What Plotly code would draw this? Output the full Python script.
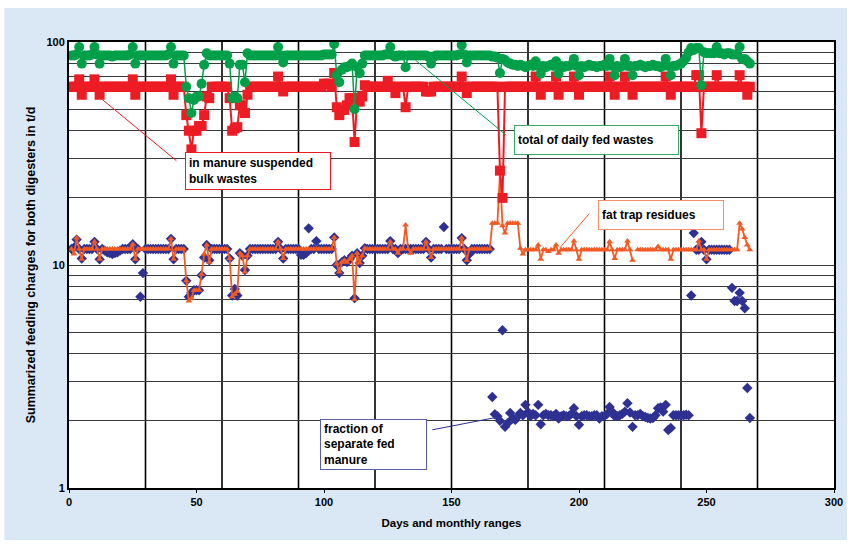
import plotly.graph_objects as go

days = list(range(1, 268))

# total of daily fed wastes (t/d)
total_fed = [
    87, 87, 88, 95, 80, 87, 87, 87, 88, 95,
    88, 80, 87, 87, 87, 87, 86, 87, 87, 87,
    87, 87, 87, 88, 95, 80, 87, 87, 87, 87,
    87, 87, 87, 87, 87, 87, 87, 87, 88, 95,
    80, 87, 87, 87, 87, 63, 56, 48, 55, 57,
    57, 65, 79, 89, 87, 87, 87, 87, 87, 87,
    87, 87, 80, 56, 57, 56, 79, 79, 66, 89,
    87, 87, 87, 87, 87, 87, 87, 87, 87, 87,
    87, 95, 87, 81, 87, 87, 87, 87, 87, 87,
    87, 87, 87, 87, 87, 87, 87, 87, 87, 88,
    88, 88, 88, 98, 71, 66, 75, 77, 77, 78,
    80, 50, 77, 72.5, 80, 87, 87, 87, 87, 87,
    87, 87, 87, 88, 88, 95, 87, 86, 87, 87,
    87, 77, 87, 87, 87, 87, 87, 87, 87, 87,
    86, 80, 86, 87, 87, 87, 87, 87, 87, 87,
    87, 87, 88, 97, 88, 81, 87, 87, 87, 87,
    87, 87, 87, 87, 87, 86, 86, 85, 72.6, 84,
    83, 81, 80, 79, 79, 78, 79, 78, 77, 78,
    79, 78, 82, 78, 72, 78, 77, 78, 79, 78,
    82, 72, 78, 77, 78, 78, 79, 84, 78, 71,
    78, 77, 78, 79, 78, 78, 77, 78, 78, 79,
    78, 84, 78, 71, 78, 77, 78, 84, 78, 78,
    71, 78, 78, 79, 78, 77, 78, 78, 79, 78,
    78, 77, 78, 84, 78, 71, 78, 78, 79, 80,
    82, 85, 90, 94, 92, 94, 94, 64, 90, 89,
    89, 89, 89, 95, 89, 89, 88, 89, 89, 88,
    88, 88, 95, 84, 84, 82, 80,
]

# in manure suspended bulk wastes (t/d)
bulk_wastes = [
    63, 63, 63, 68, 58, 63, 63, 63, 63, 68,
    63, 58, 63, 63, 63, 63, 63, 63, 63, 63,
    63, 63, 63, 63, 68, 58, 63, 63, 63, 63,
    63, 63, 63, 63, 63, 63, 63, 63, 63, 68,
    58, 63, 63, 63, 63, 47, 40, 33, 40, 40,
    42, 42, 47, 57, 56, 63, 63, 63, 63, 63,
    63, 63, 56, 40, 41, 41.5, 52, 52, 48, 58,
    63, 63, 63, 63, 63, 63, 63, 63, 63, 63,
    63, 70, 63, 60, 63, 63, 63, 63, 63, 63,
    63, 63, 63, 63, 63, 63, 63, 63, 63, 65,
    65, 65, 63, 72.6, 51, 47, 49.6, 49.6, 52, 56,
    56, 35.6, 56, 54, 57, 64, 63, 63, 63, 63,
    63, 63, 63, 63, 67, 63, 63, 59, 63, 63,
    63, 51, 63, 63, 63, 63, 63, 63, 63, 60,
    60, 60, 63, 63, 63, 63, 63, 63, 63, 63,
    63, 63, 63, 70, 63, 59, 63, 63, 63, 63,
    63, 63, 63, 63, 63, 63, 63, 63, 26.5, 20,
    63, 63, 63, 63, 63, 63, 63, 63, 63, 63,
    63, 63, 70, 63, 58, 63, 63, 63, 63, 63,
    70, 58, 63, 63, 63, 63, 63, 70, 63, 58,
    63, 63, 63, 63, 63, 63, 63, 63, 63, 63,
    63, 70, 63, 58, 63, 63, 63, 70, 63, 63,
    58, 63, 63, 63, 63, 63, 63, 63, 63, 63,
    63, 63, 63, 70, 63, 58, 63, 63, 63, 63,
    63, 63, 63, 63, 63, 71, 71, 39, 63, 63,
    63, 63, 63, 71, 63, 63, 63, 63, 63, 63,
    63, 63, 71, 63, 63, 58, 63,
]

# fat trap residues (t/d)
fat_trap = [
    11.8, 11.2, 13.2, 11.8, 10.6, 11.8, 11.8, 11.8, 11.8, 12.7,
    11.8, 10.6, 11.8, 11.8, 11.8, 11.8, 11.8, 11.8, 11.8, 11.8,
    11.8, 11.8, 11.8, 11.8, 12.4, 10.6, 11.8, 11.8, 11.8, 11.8,
    11.8, 11.8, 11.8, 11.8, 11.8, 11.8, 11.8, 11.8, 11.8, 13.1,
    10.6, 11.8, 11.8, 11.8, 11.8, 8.5, 6.9, 7.1, 7.7, 7.7,
    7.7, 9.1, 11.2, 12.3, 10.3, 11.8, 11.8, 11.8, 11.8, 11.8,
    11.8, 11.8, 10.7, 7.2, 7.4, 7.6, 11.3, 11.0, 9.3, 11.0,
    11.8, 11.8, 11.8, 11.8, 11.8, 11.8, 11.8, 11.8, 11.8, 11.8,
    11.8, 12.7, 11.8, 10.7, 11.8, 11.8, 11.8, 11.8, 11.8, 11.8,
    11.8, 11.8, 11.8, 11.8, 11.8, 11.8, 11.8, 11.8, 11.8, 11.8,
    11.8, 11.8, 11.8, 13.3, 10.1, 9.3, 10.3, 10.5, 10.3, 10.6,
    11.0, 7.0, 11.3, 10.2, 11.0, 11.9, 11.8, 11.8, 11.8, 11.8,
    11.8, 11.8, 11.8, 11.8, 11.8, 12.7, 11.8, 11.8, 11.3, 11.8,
    11.8, 15.1, 11.8, 11.3, 11.8, 11.8, 11.8, 11.8, 11.8, 12.7,
    11.8, 10.8, 11.8, 11.8, 11.8, 11.8, 11.8, 11.8, 11.8, 11.8,
    11.8, 11.8, 11.8, 13.2, 11.8, 10.5, 11.8, 11.8, 11.8, 11.8,
    11.8, 11.8, 11.8, 11.8, 11.8, 15.4, 15.4, 15.4, 26.0, 15.0,
    13.9, 15.4, 15.4, 15.4, 15.4, 15.4, 11.9, 11.2, 11.7, 11.7,
    11.7, 11.7, 11.7, 12.3, 10.6, 11.7, 11.7, 11.5, 11.7, 11.7,
    12.3, 11.3, 11.7, 11.7, 11.7, 11.7, 11.7, 12.8, 11.7, 10.6,
    11.7, 11.7, 11.7, 11.7, 11.7, 11.7, 11.7, 11.7, 11.7, 11.7,
    11.7, 12.7, 11.7, 10.7, 11.7, 11.7, 11.7, 11.7, 12.8, 11.7,
    10.5, None, 11.7, 11.7, 11.7, 11.7, 11.7, 11.7, 11.7, 11.7,
    12.1, 11.7, 11.7, 11.7, 11.7, 10.6, 11.7, 11.7, 11.7, 11.7,
    11.7, 11.7, 11.7, 11.7, 11.7, 11.7, 12.8, 11.7, 11.7, 10.6,
    11.7, 11.7, 11.7, 11.7, 11.7, 11.7, 11.7, 11.7, 11.7, 11.7,
    11.7, 11.7, 15.4, 14.5, 13.3, 12.3, 11.7,
]

# fraction of separate fed manure (t/d)
separate_manure = [
    11.8, 12.0, 13.0, 11.8, 10.7, 11.8, 11.8, 11.8, 11.8, 12.7,
    11.8, 10.6, 11.8, 11.6, 11.4, 11.3, 11.2, 11.3, 11.4, 11.6,
    11.8, 11.8, 11.8, 11.8, 12.4, 10.6, 11.8, 7.2, 9.2, 11.8,
    11.8, 11.8, 11.8, 11.8, 11.8, 11.8, 11.8, 11.8, 11.8, 13.1,
    10.6, 11.8, 11.8, 11.8, 11.8, 8.5, 7.2, 7.5, 7.7, 7.7,
    7.7, 9.0, 10.8, 12.3, 10.5, 11.8, 11.8, 11.8, 11.8, 11.8,
    11.8, 11.8, 10.7, 7.3, 7.8, 7.3, 11.3, 11.0, 9.5, 11.0,
    11.8, 11.8, 11.8, 11.8, 11.8, 11.8, 11.8, 11.8, 11.8, 11.8,
    11.8, 12.7, 11.8, 10.7, 11.8, 11.8, 11.8, 11.8, 11.8, 11.8,
    11.1, 11.1, 11.3, 14.6, 11.8, 11.8, 12.8, 11.8, 11.8, 11.8,
    11.8, 11.8, 11.8, 13.3, 10.0, 9.2, 10.3, 10.5, 10.3, 10.6,
    11.0, 7.1, 11.3, 10.2, 11.0, 11.9, 11.8, 11.8, 11.8, 11.8,
    11.8, 11.8, 11.8, 11.8, 11.8, 12.8, 11.8, 11.8, 11.3, 11.8,
    11.8, 11.8, 11.8, 11.8, 11.8, 11.8, 11.8, 11.8, 11.8, 12.7,
    11.8, 10.8, 11.8, 11.8, 11.8, 11.8, 14.8, 11.8, 11.8, 11.8,
    11.8, 11.8, 11.8, 13.2, 11.8, 10.5, 11.2, 11.8, 11.8, 11.8,
    11.8, 11.8, 11.8, 11.8, 11.8, 2.56, 2.14, 2.10, 2.0, 5.1,
    1.88, 1.95, 2.17, 2.05, 2.02, 2.1, 2.17, 2.12, 2.36, 2.19,
    2.1, 2.15, 2.12, 2.36, 1.93, 2.12, 2.15, 2.12, 2.12, 2.1,
    2.15, 2.05, 2.1, 2.12, 2.1, 2.1, 2.15, 2.28, 2.1, 1.92,
    2.1, 2.12, 2.12, 2.1, 2.1, 2.12, 2.12, 2.05, 2.1, 2.1,
    2.15, 2.31, 2.2, 2.1, 2.1, 2.12, 2.15, 2.2, 2.4, 2.18,
    1.88, 2.12, 2.12, 2.15, 2.1, 2.08, 2.06, 2.05, 2.06, 2.12,
    2.28, 2.3, 2.2, 2.36, 1.82, 1.86, 2.12, 2.12, 2.12, 2.12,
    2.12, 2.13, 2.12, 7.3, 13.9, 11.7, 11.7, 12.7, 11.7, 10.6,
    11.7, 11.7, 11.7, 11.7, 11.7, 11.7, 11.7, 11.7, 11.7, 7.9,
    6.9, 6.9, 7.5, 6.9, 6.4, 2.81, 2.06,
]

for name, arr in [("total", total_fed), ("bulk", bulk_wastes),
                  ("fat", fat_trap), ("sep", separate_manure)]:
    assert len(arr) == len(days), (name, len(arr))

month_lines = [30, 60, 90, 120, 150, 180, 210, 240, 270]
x_ticks = [0, 50, 100, 150, 200, 250, 300]
y_grid = [1, 2, 3, 4, 5, 6, 7, 8, 9, 10, 20, 30, 40, 50, 60, 70, 80, 90, 100]
y_labels = {1: "1", 10: "10", 100: "100"}

GREEN = "#00a04a"
RED = "#ed1c24"
ORANGE = "#f15a24"
BLUE = "#2e3192"
FONT = "Arial, Liberation Sans, sans-serif"

fig = go.Figure()
fig.add_trace(go.Scatter(x=days, y=separate_manure, mode="markers",
                         marker=dict(symbol="diamond", size=8, color=BLUE),
                         name="fraction of separate fed manure"))
fig.add_trace(go.Scatter(x=days, y=fat_trap, mode="lines+markers",
                         line=dict(color=ORANGE, width=1.8),
                         marker=dict(symbol="triangle-up", size=6, color=ORANGE),
                         connectgaps=False, name="fat trap residues"))
fig.add_trace(go.Scatter(x=days, y=bulk_wastes, mode="lines+markers",
                         line=dict(color=RED, width=2),
                         marker=dict(symbol="square", size=10, color=RED),
                         name="in manure suspended bulk wastes"))
fig.add_trace(go.Scatter(x=days, y=total_fed, mode="lines+markers",
                         line=dict(color=GREEN, width=1.5),
                         marker=dict(symbol="circle", size=10, color=GREEN),
                         name="total of daily fed wastes"))

L, R, T, B = 69, 17, 42, 56
W, H = 855, 544
pw, ph = W - L - R, H - T - B

shapes = [
    dict(type="rect", xref="paper", yref="paper", layer="below",
         x0=(4 - L) / pw, x1=(851 - L) / pw,
         y0=(H - B - 540) / ph, y1=(H - B - 8) / ph,
         fillcolor="#dae7f4", line=dict(width=0)),
    dict(type="rect", xref="paper", yref="paper", layer="below",
         x0=0, x1=1, y0=0, y1=1, fillcolor="white", line=dict(width=0)),
]
for m in month_lines:
    shapes.append(dict(type="line", xref="x", yref="paper", layer="below",
                       x0=m, x1=m, y0=0, y1=1,
                       line=dict(color="black", width=1.6)))

bold = dict(family=FONT, size=11, color="black", weight="bold")
ann_font = dict(family=FONT, size=12, color="black", weight="bold")

annotations = [
    # boxes
    dict(x=45.6, y=1.507, xref="x", yref="y", xanchor="left", yanchor="top",
         text="in manure suspended<br>bulk wastes", showarrow=False, align="left",
         bgcolor="white", bordercolor=RED, borderwidth=1, borderpad=3,
         width=138, height=30, font=ann_font),
    dict(x=174.4, y=1.628, xref="x", yref="y", xanchor="left", yanchor="top",
         text="total of daily fed wastes", showarrow=False, align="left",
         bgcolor="white", bordercolor="#3aa866", borderwidth=1, borderpad=3,
         width=157, height=22, font=ann_font),
    dict(x=207.6, y=1.291, xref="x", yref="y", xanchor="left", yanchor="top",
         text="fat trap residues", showarrow=False, align="left",
         bgcolor="white", bordercolor="#f4916a", borderwidth=1, borderpad=3,
         width=118, height=22, font=ann_font),
    dict(x=98.3, y=0.309, xref="x", yref="y", xanchor="left", yanchor="top",
         text="fraction of<br>separate fed<br>manure", showarrow=False, align="left",
         bgcolor="white", bordercolor="#5a5da8", borderwidth=1, borderpad=3,
         width=99, height=43, font=ann_font),
    # pointer lines
    dict(x=13.3, y=1.740, xref="x", yref="y", ax=75, ay=62, text="",
         showarrow=True, arrowhead=0, arrowwidth=1, arrowcolor=RED, standoff=0),
    dict(x=135.8, y=1.919, xref="x", yref="y", ax=92, ay=76, text="",
         showarrow=True, arrowhead=0, arrowwidth=1, arrowcolor=GREEN, standoff=0),
    dict(x=192.4, y=1.076, xref="x", yref="y", ax=31, ay=-36, text="",
         showarrow=True, arrowhead=0, arrowwidth=1, arrowcolor=ORANGE, standoff=0),
    dict(x=168.2, y=0.318, xref="x", yref="y", ax=-67, ay=13, text="",
         showarrow=True, arrowhead=0, arrowwidth=1, arrowcolor=BLUE, standoff=0),
]

fig.update_layout(
    width=W, height=H,
    margin=dict(l=L, r=R, t=T, b=B, pad=0),
    paper_bgcolor="white", plot_bgcolor="white",
    showlegend=False,
    shapes=shapes, annotations=annotations,
    font=dict(family=FONT, size=11, color="black"),
    xaxis=dict(range=[0, 300], tickvals=x_ticks, ticks="outside", ticklen=3,
               tickcolor="black", showgrid=False, zeroline=False,
               showline=True, linecolor="black", linewidth=2, mirror=True,
               tickfont=bold,
               title=dict(text="Days and monthly ranges",
                          font=dict(family=FONT, size=11.5, color="black", weight="bold"),
                          standoff=12)),
    yaxis=dict(type="log", range=[0, 2], tickvals=y_grid,
               ticktext=[y_labels.get(v, "") for v in y_grid],
               ticks="", showgrid=True, gridcolor="#3a3a3a", gridwidth=1.4,
               zeroline=False, showline=True, linecolor="black", linewidth=2,
               mirror=True, tickfont=bold,
               title=dict(text="Summarized feeding charges for both digesters in t/d",
                          font=dict(family=FONT, size=12.5, color="black", weight="bold"),
                          standoff=8)),
)

fig.write_html("out.html")
